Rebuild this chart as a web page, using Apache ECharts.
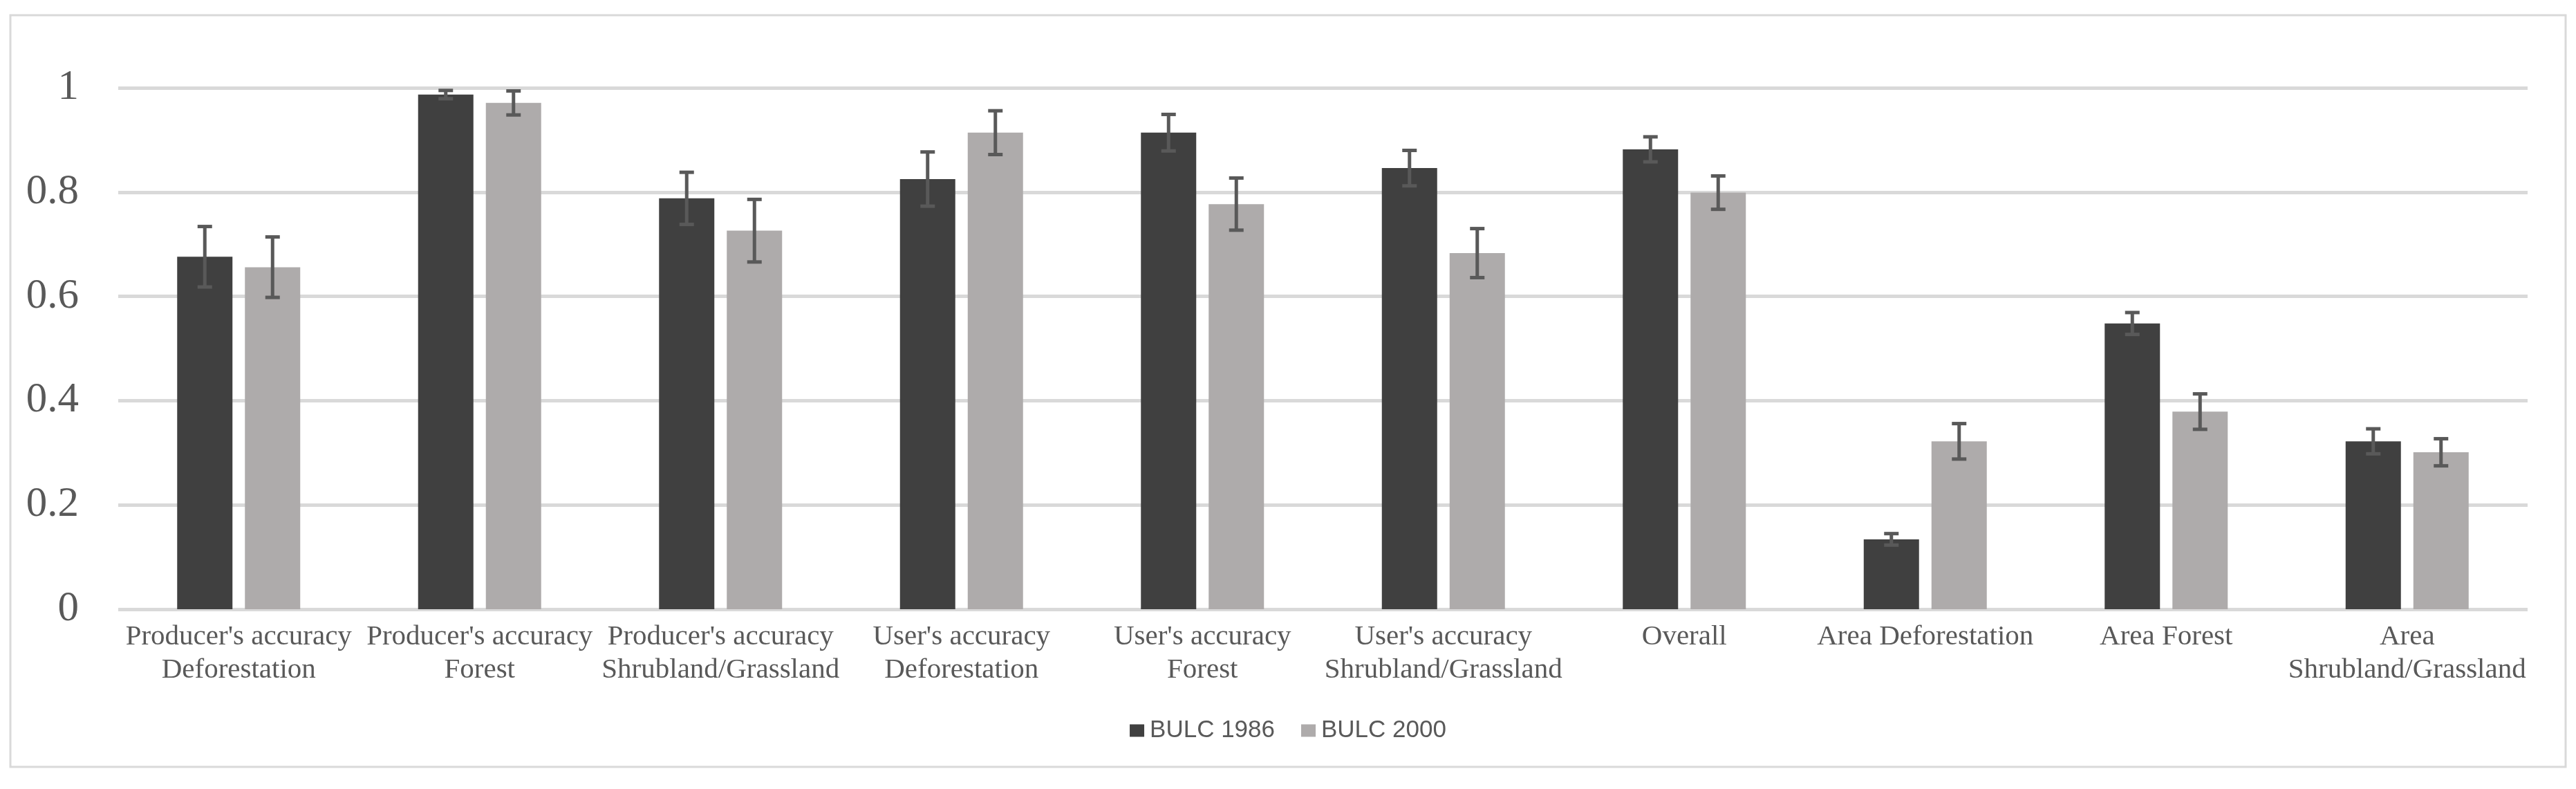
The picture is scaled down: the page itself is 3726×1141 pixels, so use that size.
<!DOCTYPE html>
<html>
<head>
<meta charset="utf-8">
<script src="https://cdn.jsdelivr.net/npm/echarts@6/dist/echarts.min.js"></script>
<style>
  html, body { margin: 0; padding: 0; background: #ffffff; }
  #chart { width: 3726px; height: 1141px; }
</style>
</head>
<body>
<div id="chart"></div>
<script>
// ---- data ----
const categories = [
  "Producer's accuracy\nDeforestation",
  "Producer's accuracy\nForest",
  "Producer's accuracy\nShrubland/Grassland",
  "User's accuracy\nDeforestation",
  "User's accuracy\nForest",
  "User's accuracy\nShrubland/Grassland",
  "Overall",
  "Area Deforestation",
  "Area Forest",
  "Area\nShrubland/Grassland"
];
const seriesNames = ["BULC 1986", "BULC 2000"];
const values1986 = [0.676, 0.987, 0.788, 0.825, 0.914, 0.846, 0.882, 0.134, 0.548, 0.322];
const values2000 = [0.656, 0.971, 0.726, 0.914, 0.777, 0.683, 0.799, 0.322, 0.379, 0.301];
const err1986    = [0.058, 0.008, 0.050, 0.052, 0.035, 0.034, 0.024, 0.011, 0.021, 0.024];
const err2000    = [0.058, 0.023, 0.060, 0.042, 0.050, 0.047, 0.032, 0.034, 0.034, 0.026];
const yTicks = { min: 0, max: 1, interval: 0.2 };

// ---- style constants ----
const BAR_W = 80, BAR_GAP = 18;
const COLORS = ['#404040', '#AEABAB'];
const TEXT = '#595959';
const GRID = '#D9D9D9';

function errData(vals, errs) {
  return vals.map((v, i) => [i, v - errs[i], v + errs[i]]);
}

function errorSeries(name, vals, errs, side) {
  return {
    type: 'custom',
    name: name + ' error',
    z: 5,
    silent: true,
    data: errData(vals, errs),
    renderItem: function (params, api) {
      const i = api.value(0);
      const lo = api.coord([i, api.value(1)]);
      const hi = api.coord([i, api.value(2)]);
      const x = lo[0] + side * (BAR_W + BAR_GAP) / 2;
      const cap = 10.5;
      const st = { stroke: TEXT, lineWidth: 5 };
      return {
        type: 'group',
        children: [
          { type: 'line', shape: { x1: x, y1: hi[1], x2: x, y2: lo[1] }, style: st },
          { type: 'line', shape: { x1: x - cap, y1: hi[1], x2: x + cap, y2: hi[1] }, style: st },
          { type: 'line', shape: { x1: x - cap, y1: lo[1], x2: x + cap, y2: lo[1] }, style: st }
        ]
      };
    }
  };
}

const chart = echarts.init(document.getElementById('chart'), null, { renderer: 'canvas' });
chart.setOption({
  animation: false,
  backgroundColor: '#ffffff',
  graphic: [{
    type: 'rect',
    shape: { x: 15, y: 22, width: 3696, height: 1087 },
    style: { fill: 'none', stroke: GRID, lineWidth: 3 },
    z: -1
  }],
  grid: { left: 171, right: 70, top: 127, height: 754, containLabel: false },
  legend: {
    data: seriesNames,
    top: 1034,
    left: 'center',
    icon: 'rect',
    itemWidth: 21,
    itemHeight: 18,
    itemGap: 38,
    textStyle: { fontFamily: 'Liberation Sans', fontSize: 35, color: TEXT, padding: [0, 0, 0, 3] }
  },
  xAxis: {
    type: 'category',
    data: categories,
    axisLine: { show: false },
    axisTick: { show: false },
    axisLabel: {
      interval: 0,
      margin: 16,
      fontFamily: 'Liberation Serif',
      fontSize: 41,
      lineHeight: 48,
      color: TEXT
    }
  },
  yAxis: {
    type: 'value',
    min: yTicks.min,
    max: yTicks.max,
    interval: yTicks.interval,
    axisLine: { show: false },
    axisTick: { show: false },
    splitLine: { lineStyle: { color: GRID, width: 5 } },
    axisLabel: {
      margin: 57,
      fontFamily: 'Liberation Serif',
      fontSize: 61,
      color: TEXT
    }
  },
  series: [
    { type: 'bar', name: seriesNames[0], data: values1986, barWidth: BAR_W, barGap: (BAR_GAP / BAR_W * 100) + '%', itemStyle: { color: COLORS[0] } },
    { type: 'bar', name: seriesNames[1], data: values2000, barWidth: BAR_W, barGap: (BAR_GAP / BAR_W * 100) + '%', itemStyle: { color: COLORS[1] } },
    errorSeries(seriesNames[0], values1986, err1986, -1),
    errorSeries(seriesNames[1], values2000, err2000, 1)
  ]
});
</script>
</body>
</html>
